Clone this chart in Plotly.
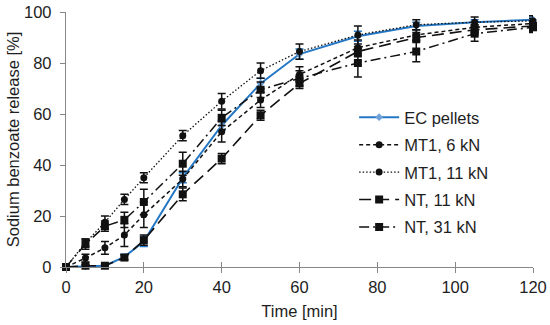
import plotly.graph_objects as go

times = [0, 5, 10, 15, 20, 30, 40, 50, 60, 75, 90, 105, 120]

ec_pellets = [0, 0.3, 0.5, 4, 10, 35, 55.5, 72, 83.5, 90.5, 94.5, 96, 97]
ec_err = [0, 0.5, 0.5, 1, 2, 2, 2, 2, 2, 2, 1.5, 1, 1]

mt1_6 = [0, 3.5, 7.5, 12.5, 20.5, 34.5, 53, 65.5, 75.5, 86, 91, 94, 95.5]
mt1_6_err = [0, 1.5, 2.5, 4.5, 5, 3, 4, 3, 3, 3, 2, 2, 2]

mt1_11 = [0, 9.5, 17.5, 26.5, 35, 51.5, 65, 77, 84.5, 91, 95, 96, 96.5]
mt1_11_err = [0, 1.5, 2.5, 2, 2, 2, 3, 3, 3, 3.5, 2, 2, 2]

nt_11 = [0, 0.5, 0.5, 3.7, 10.5, 28.5, 42.5, 59.5, 72, 84.5, 90, 93, 94.5]
nt_11_err = [0, 0.5, 0.5, 1, 2, 2.5, 2, 2, 2, 2, 2, 2, 2]

nt_31 = [0, 9, 16, 18.5, 25.5, 40.5, 58.5, 69.5, 74, 80, 84.5, 91.5, 94]
nt_31_err = [0, 2, 2, 3, 5, 4.5, 3, 3, 3, 5.5, 4, 3, 2]

names = ["EC pellets", "MT1, 6 kN", "MT1, 11 kN", "NT, 11 kN", "NT, 31 kN"]

BLUE = "#2477C4"
BLACK = "#111111"
AXIS = "#878787"
TXT = "#1e1e1e"
FONT = "Liberation Sans, Arial, sans-serif"
FS = 16.5

fig = go.Figure()

series = [
    (names[0], ec_pellets, ec_err, BLUE, "solid", 2, "diamond", 6, "#6FA3D8"),
    (names[1], mt1_6, mt1_6_err, BLACK, "4px,3px", 1.5, "circle", 7, BLACK),
    (names[2], mt1_11, mt1_11_err, BLACK, "1.5px,2px", 1.3, "circle", 7, BLACK),
    (names[3], nt_11, nt_11_err, BLACK, "12px,6px", 1.6, "square", 8, BLACK),
    (names[4], nt_31, nt_31_err, BLACK, "10px,4px,2px,4px", 1.5, "square", 8, BLACK),
]

for i, (nm, vals, err, col, dash, lw, sym, ms, mcol) in enumerate(series):
    fig.add_trace(go.Scatter(
        x=times, y=vals, name=nm, mode="lines+markers",
        line=dict(color=col, width=lw, dash=dash),
        marker=dict(symbol=sym, size=ms, color=mcol, line=dict(width=0)),
        error_y=dict(type="data", array=err, visible=True, color=col,
                     thickness=1.5, width=4),
        cliponaxis=False, legendgroup=f"g{i}", legendrank=i + 1,
    ))

# helper (invisible) trace to carry the crossing tick axis
fig.add_trace(go.Scatter(x=times, y=ec_pellets, xaxis="x2", mode="markers",
                         marker=dict(opacity=0), hoverinfo="skip",
                         showlegend=False))

fig.update_layout(
    width=550, height=325,
    margin=dict(l=66, r=17, t=12, b=58, autoexpand=False),
    paper_bgcolor="white", plot_bgcolor="white",
    font=dict(family=FONT, size=FS, color=TXT),
    showlegend=True,
    legend=dict(x=0.617, xanchor="left", y=0.655, yanchor="top",
                bgcolor="rgba(0,0,0,0)", font=dict(size=FS, color=TXT),
                tracegroupgap=3, itemwidth=40, traceorder="grouped"),
    xaxis=dict(range=[0, 120], dtick=20, showgrid=False, zeroline=False,
               automargin=False,
               showline=True, linecolor=AXIS, linewidth=1.3,
               ticks="outside", ticklen=5, tickcolor=AXIS, tickwidth=1.3,
               tickfont=dict(size=FS, color=TXT),
               title=dict(text="Time [min]", font=dict(size=FS, color=TXT),
                          standoff=10)),
    xaxis2=dict(range=[0, 120], dtick=20, overlaying="x", anchor="y",
                side="bottom", showgrid=False, zeroline=False, showline=False,
                automargin=False,
                ticks="inside", ticklen=5, tickcolor=AXIS, tickwidth=1.3,
                showticklabels=False),
    yaxis=dict(range=[0, 100], dtick=20, showgrid=False, zeroline=False,
               automargin=False,
               showline=True, linecolor=AXIS, linewidth=1.3,
               ticks="outside", ticklen=5, tickcolor=AXIS, tickwidth=1.3,
               ticklabelstandoff=5,
               tickfont=dict(size=FS, color=TXT),
               title=dict(text="Sodium benzoate release [%]",
                          font=dict(size=FS, color=TXT), standoff=0)),
)

fig.write_html("out.html", config={"displayModeBar": False},
               post_script="document.body.style.margin='0';")
